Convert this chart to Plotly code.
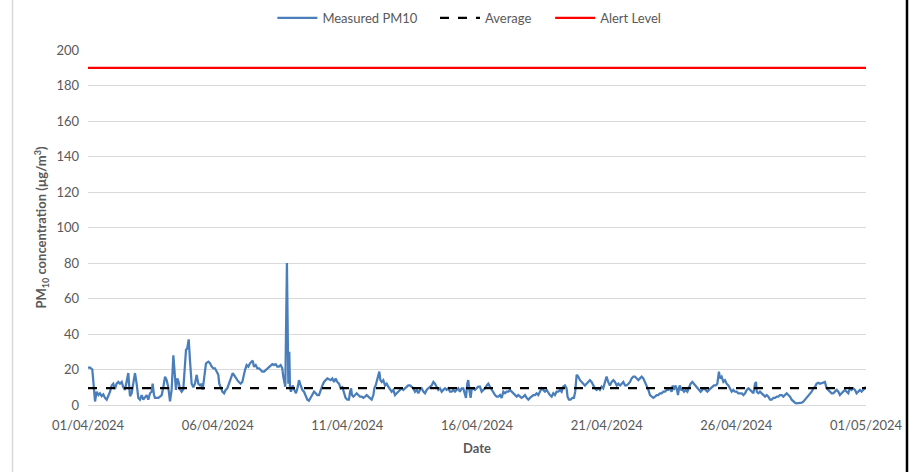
import datetime as dt
import plotly.graph_objects as go

# ---- data ----
START = "2024-04-01 00:00"
hours = [0, 2, 4, 6.5, 8.0, 9.6, 11.1, 12.6, 14.2, 15.7, 17.3, 18.8, 20.4, 21.9, 23.4, 25.0, 26.5, 28.1, 29.6, 31.2,
         32.7, 34.2, 35.8, 37.3, 38.3, 38.9, 40.4, 42.0, 43.5, 45.0, 46.6, 48.1, 49.7, 51.2, 52.8, 54.3, 55.8, 57.4,
         58.9, 59.8, 61.1, 62.0, 63.6, 65.1, 66.6, 68.2, 69.7, 71.3, 72.8, 74.3, 75.9, 77.4, 79.0, 80.5, 81.4, 82.7,
         83.9, 85.1, 86.7, 88.2, 89.8, 90.7, 91.9, 93.2, 94.4, 95.9, 97.5, 99.0, 100.6, 102.1, 103.7, 105.2, 106.1,
         107.4, 109.2, 111.4, 112.9, 114.5, 116.0, 117.5, 119.1, 120.6, 121.5, 122.8, 124.3, 125.9, 127.4, 128.9,
         130.5, 132.0, 133.9, 135.1, 136.7, 138.2, 139.7, 141.3, 142.8, 143.8, 145.3, 146.8, 148.4, 149.9, 151.5,
         152.4, 153.6, 155.2, 156.7, 158.3, 159.8, 161.3, 162.9, 164.4, 166.0, 167.5, 169.0, 170.6, 172.1, 173.7,
         175.2, 176.7, 178.3, 179.8, 180.7, 181.7, 182.6, 184.1, 185.4, 186.3, 186.9, 187.8, 189.4, 190.9, 192.5,
         194.0, 195.3, 196.8, 198.4, 199.9, 201.4, 203.0, 204.5, 206.1, 207.6, 209.2, 210.7, 212.2, 213.8, 215.3,
         216.9, 218.4, 219.9, 221.5, 223.0, 224.6, 226.1, 227.7, 229.2, 230.7, 232.3, 233.8, 235.4, 236.9, 238.4,
         240.0, 241.5, 242.5, 243.5, 244.3, 245.6, 247.1, 248.7, 250.2, 251.7, 253.3, 254.8, 256.4, 257.9, 259.4,
         261.0, 262.5, 264.1, 265.0, 266.2, 267.2, 268.4, 269.6, 270.6, 271.8, 273.3, 274.9, 276.4, 277.9, 279.5,
         281.0, 282.6, 284.1, 285.7, 287.2, 288.7, 290.3, 291.8, 293.4, 294.9, 296.4, 298.0, 299.5, 301.1, 302.6,
         304.2, 305.7, 307.2, 308.8, 310.3, 311.9, 313.4, 314.9, 316.5, 318.0, 319.6, 321.1, 322.6, 324.2, 325.7,
         327.3, 328.8, 330.4, 331.9, 333.4, 335.0, 336.5, 338.1, 339.6, 341.1, 342.7, 344.2, 345.8, 347.3, 348.8,
         349.8, 351.0, 351.9, 352.9, 354.1, 355.0, 356.6, 358.1, 359.7, 361.2, 362.7, 364.3, 365.9, 367.4, 369.0,
         370.5, 372.0, 373.6, 375.1, 376.7, 378.2, 379.7, 381.3, 382.8, 384.4, 385.9, 387.4, 389.0, 390.5, 392.1,
         393.6, 395.2, 396.7, 398.2, 399.8, 401.3, 402.9, 404.4, 405.9, 407.5, 409.0, 410.6, 412.1, 413.6, 415.2,
         416.7, 418.3, 419.8, 421.3, 422.9, 424.4, 426.0, 427.5, 429.1, 430.6, 432.1, 433.7, 435.2, 436.8, 438.3,
         439.8, 441.4, 442.9, 443.8, 445.1, 446.6, 448.2, 449.7, 450.9, 452.2, 453.7, 455.3, 456.8, 458.3, 459.9,
         461.4, 463.0, 464.5, 466.0, 467.6, 469.1, 470.7, 472.2, 473.7, 475.3, 476.8, 478.4, 479.9, 481.4, 483.0,
         484.6, 486.2, 487.7, 489.3, 490.8, 492.4, 493.9, 495.4, 497.0, 498.5, 500.1, 501.6, 503.1, 504.7, 506.2,
         507.8, 509.3, 510.8, 512.4, 513.9, 515.5, 517.0, 518.6, 520.1, 521.6, 523.2, 524.7, 526.3, 527.8, 529.3,
         530.9, 532.4, 534.0, 535.5, 537.0, 538.6, 540.1, 541.1, 542.3, 543.5, 544.8, 546.0, 547.2, 547.8, 549.1,
         550.4, 551.6, 553.1, 554.7, 556.2, 557.7, 559.3, 560.8, 562.4, 563.9, 565.4, 567.0, 568.5, 570.1, 571.6,
         573.2, 574.7, 576.2, 577.8, 579.3, 580.9, 582.4, 583.9, 584.9, 586.4, 588.0, 589.5, 591.0, 592.6, 594.1,
         595.7, 597.2, 598.7, 600.3, 601.8, 603.4, 605.0, 606.5, 608.1, 609.6, 611.2, 612.7, 614.2, 615.8, 617.3,
         618.2, 618.9, 620.4, 621.9, 623.5, 625.0, 626.6, 628.1, 629.6, 631.2, 632.7, 634.3, 635.8, 637.4, 638.9,
         640.4, 642.0, 643.5, 645.1, 646.6, 648.1, 649.7, 651.2, 652.8, 654.3, 655.8, 657.4, 658.9, 660.5, 662.0,
         663.5, 665.1, 666.6, 668.2, 669.7, 671.3, 672.8, 674.3, 675.9, 677.4, 679.0, 680.5, 682.0, 683.6, 685.1,
         686.7, 688.2, 689.7, 691.3, 692.8, 694.4, 695.9, 697.4, 699.0, 700.5, 702.1, 703.6, 705.1, 706.7, 708.2,
         709.8, 711.3, 712.9, 714.4, 715.9, 717.5, 719.0, 720.0]
pm10 = [21, 21, 20, 2, 7.5, 5.6, 6.6, 5, 6, 4, 3, 5, 7.5, 11, 12, 9, 12, 13, 12, 13,
        10, 8.5, 14, 18, 9, 5, 6.6, 14, 18, 12, 4, 3, 5.6, 3, 4.7, 5.6, 3, 6.6,
        7.5, 12, 5.6, 4, 4, 4, 4.7, 5.6, 10, 16, 14, 10, 2, 8.5, 28, 16, 8.5, 15,
        13, 9, 7.5, 9, 23.5, 31, 32, 37, 25, 12, 10, 12, 17, 12, 11, 12, 8.5,
        16, 23.5, 24.4, 23.5, 21.6, 20.7, 20.7, 18.8, 17, 12, 9.4, 7.5, 6.6, 8.5, 9.4,
        12, 14, 18, 17, 15, 14, 13, 12, 13, 16, 19.7, 22.5, 21.6, 23.5, 24.4,
        25, 21.6, 22.5, 20.7, 20.7, 19.7, 18.8, 18.8, 19.7, 20.7, 21.6, 22.5, 23, 22.5, 23,
        21.6, 21.6, 22.5, 20.7, 16, 12, 10.3, 80, 12, 30, 10, 7.5, 11, 8.5, 6.6,
        10, 14, 11, 8.5, 7.5, 4.7, 3, 2.4, 4, 5.6, 7.5, 6.6, 5.6, 5.6, 8.5,
        11, 13, 14, 15, 14.5, 14, 15, 13, 15, 13, 12, 9.4, 10, 7.5, 4,
        3, 3, 7.5, 9.4, 5.6, 4.7, 5.6, 6.6, 5.6, 4.7, 4.7, 4, 4.7, 5.6, 4.7,
        4, 3, 5.6, 9.4, 11, 14, 16, 18.8, 14, 13, 14, 11, 12, 10.3, 8.5,
        7.5, 8.5, 5.6, 6.6, 7.5, 8.5, 9.4, 8.5, 9.4, 10.3, 11, 11, 10.3, 9.4, 7.5,
        8.5, 6.6, 8.5, 9.4, 7.5, 6.6, 8.5, 9.4, 10.3, 11, 13, 12, 10.3, 8.5, 9.4,
        7.5, 8.5, 9.4, 8.5, 9.4, 7.5, 7.5, 8.5, 7.5, 8.5, 9.4, 7.5, 9.4, 9.4, 5.6,
        4, 12, 14, 8.5, 4, 8.5, 9.4, 8.5, 9.4, 10.3, 10.3, 7.5, 8.5, 9.4, 11,
        12, 10.3, 8.5, 7.5, 5.6, 4.7, 4.7, 5.6, 4, 7.5, 6.6, 7.5, 7.5, 8.5, 7.5,
        6.6, 5.6, 4.7, 5.6, 4.7, 4, 4.7, 5.6, 4, 3, 4, 4.7, 5.6, 5.6, 6.6,
        5.6, 7.5, 9.4, 8.5, 7.5, 8.5, 6.6, 5.6, 4.7, 6.6, 5.6, 7.5, 7.5, 8.5, 7.5,
        10.3, 11, 9.4, 4.7, 3, 3, 4, 4, 7.5, 17, 16, 14, 13, 12, 11,
        12, 13, 14, 13, 11, 9.4, 8.5, 9.4, 8.5, 10.3, 9.4, 13, 16, 13, 11,
        13, 14, 13, 11, 12, 11, 12, 13, 11, 11, 12, 13, 15, 16, 16,
        15, 14, 15, 16, 15, 13, 11, 8.5, 5.6, 4.7, 4, 4.7, 5.6, 5.6, 6.6,
        6.6, 7.5, 7.5, 8.5, 8.5, 9.4, 7.5, 11, 8.5, 11, 9.4, 5.6, 10.3, 11, 8.5,
        8.5, 7.5, 8.5, 7.5, 9.4, 12, 13, 12, 11, 9.4, 8.5, 7.5, 8.5, 9.4, 8.5,
        7.5, 8.5, 9.4, 10.3, 11, 11, 12, 18.8, 15, 16, 13, 14, 12, 11, 9.4,
        7.5, 8.5, 7.5, 7.5, 6.6, 6.6, 6.6, 5.6, 6.6, 8.5, 9.4, 8.5, 7.5, 6.6, 12,
        13, 7.5, 6.6, 7.5, 6.6, 5.6, 4.7, 5.6, 4.7, 3, 3, 4, 4, 4.7, 4.7,
        5.6, 5.6, 4.7, 5.6, 6.6, 5.6, 4.7, 3, 1.9, 1.3, 0.9, 0.9, 0.9, 1.3, 1.9,
        3, 4, 5.6, 6.6, 7.5, 9.4, 10.3, 12, 12.5, 12, 12.5, 12.5, 13, 9.4, 8.5,
        7.5, 6.6, 6.6, 7.5, 8.5, 7.5, 5.6, 6.6, 7.5, 8.5, 7.5, 6.6, 9.4, 8.5, 9.4,
        8.5, 6.6, 7.5, 8.5, 7.5, 8.5, 9.4, 10.3]
AVERAGE = 9.5
ALERT = 190
Y_TICKS = [0, 20, 40, 60, 80, 100, 120, 140, 160, 180, 200]
X_TICKS = ["2024-04-01", "2024-04-06", "2024-04-11", "2024-04-16", "2024-04-21", "2024-04-26", "2024-05-01"]
X_RANGE = ["2024-04-01", "2024-05-01"]

t0 = dt.datetime.fromisoformat(START)
times = [t0 + dt.timedelta(hours=h) for h in hours]
x_end = [dt.datetime.fromisoformat(X_RANGE[0]), dt.datetime.fromisoformat(X_RANGE[1])]

FONT = "Lato, 'Open Sans', sans-serif"
GRAY = "#595959"
GRID = "#d9d9d9"

fig = go.Figure()
fig.add_trace(go.Scatter(x=times, y=pm10, mode="lines", name="Measured PM10", legend="legend",
                         line=dict(color="#4a7ebb", width=2.25)))
fig.add_trace(go.Scatter(x=x_end, y=[AVERAGE, AVERAGE], mode="lines", name="Average", legend="legend2",
                         line=dict(color="#000000", width=2.25, dash="dash")))
fig.add_trace(go.Scatter(x=x_end, y=[ALERT, ALERT], mode="lines", name="Alert Level", legend="legend3",
                         line=dict(color="#ff0000", width=2.25)))

leg_common = dict(orientation="h", xanchor="left", yref="container", y=0.962, yanchor="middle",
                  font=dict(size=13, color=GRAY), bgcolor="rgba(0,0,0,0)", itemwidth=40)

fig.update_layout(
    width=911, height=472,
    margin=dict(l=88, r=45, t=50, b=67, autoexpand=False),
    paper_bgcolor="white", plot_bgcolor="white",
    font=dict(family=FONT, size=13, color=GRAY),
    showlegend=True,
    legend=dict(x=0.237, **leg_common),
    legend2=dict(x=0.446, **leg_common),
    legend3=dict(x=0.594, **leg_common),
    shapes=[
        dict(type="line", xref="paper", yref="paper", x0=-0.097, x1=-0.097, y0=-0.19, y1=1.141,
             line=dict(color="#d9d9d9", width=1.5)),
        dict(type="line", xref="paper", yref="paper", x0=1.0527, x1=1.0527, y0=-0.19, y1=1.141,
             line=dict(color="#000000", width=2.5)),
    ],
)
fig.update_xaxes(
    type="date", range=X_RANGE, tickvals=X_TICKS, tickformat="%d/%m/%Y",
    showgrid=False, showline=True, linecolor=GRID, linewidth=1,
    ticks="", ticklabelstandoff=8, tickfont=dict(size=13, color=GRAY),
    title=dict(text="<b>Date</b>", font=dict(size=13, color=GRAY), standoff=12),
    zeroline=False, automargin=False,
)
fig.update_yaxes(
    range=[0, 200], tickvals=Y_TICKS, showgrid=True, gridcolor=GRID, gridwidth=1,
    zeroline=False, showline=False, ticks="", ticklabelstandoff=8,
    tickfont=dict(size=13, color=GRAY), automargin=False,
    title=dict(text="<b>PM<sub>10</sub> concentration (µg/m<sup>3</sup>)</b>",
               font=dict(size=13, color=GRAY), standoff=6),
)

fig.write_html(
    "out.html",
    config={"displayModeBar": False},
    post_script="document.body.style.margin='0';document.body.style.overflow='hidden';",
)
